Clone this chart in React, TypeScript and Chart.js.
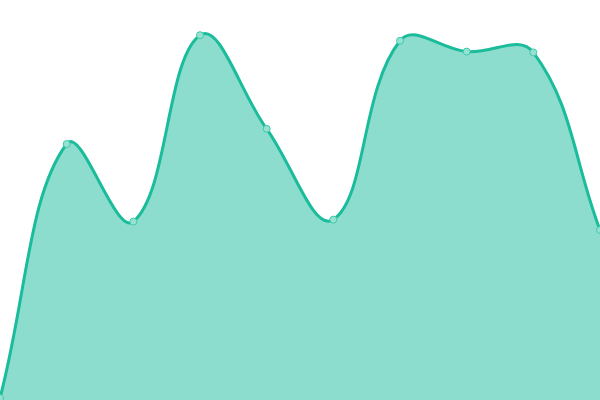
import React, { useEffect, useRef } from "react";
import { Chart, registerables } from "chart.js";

Chart.register(...registerables);

const labels = ["1", "2", "3", "4", "5", "6", "7", "8", "9", "10"];
const values = [0.5, 64, 44.6, 91.2, 67.8, 45.1, 89.8, 87.1, 86.9, 42.5];

export default function App() {
  const ref = useRef<HTMLCanvasElement | null>(null);
  useEffect(() => {
    document.body.style.margin = "0";
    const ctx = ref.current!.getContext("2d")!;
    const chart = new Chart(ctx, {
      type: "line",
      data: {
        labels,
        datasets: [
          {
            data: values,
            borderColor: "#1abc9c",
            backgroundColor: "rgba(26,188,156,0.5)",
            fill: true,
            tension: 0.4,
            borderWidth: 3,
            pointRadius: 3.5,
            pointBorderWidth: 1,
            pointBackgroundColor: "#96e2d2",
            pointBorderColor: "#40c9a9",
          },
        ],
      },
      options: {
        animation: false,
        responsive: false,
        layout: { padding: 0, autoPadding: false },
        plugins: { legend: { display: false }, tooltip: { enabled: false } },
        scales: {
          x: { display: false },
          y: { display: false, min: 0, max: 100 },
        },
      },
    });
    return () => chart.destroy();
  }, []);
  return <canvas ref={ref} width={600} height={400} style={{ display: "block" }} />;
}
